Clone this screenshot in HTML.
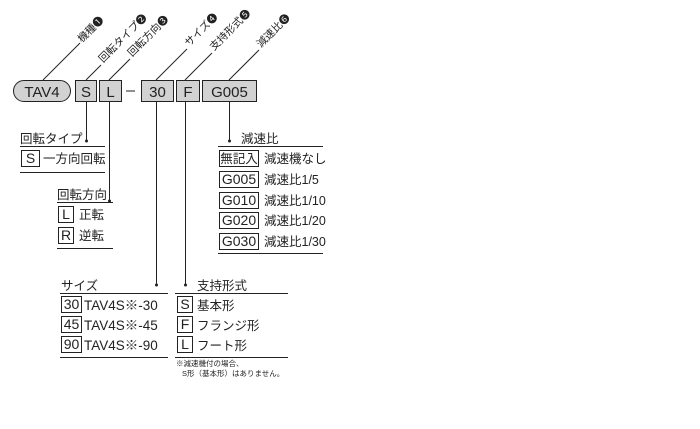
<!DOCTYPE html><html><head><meta charset="utf-8"><style>body{margin:0;background:#fff}svg{display:block}text{font-family:"Liberation Sans","Noto Sans CJK JP",sans-serif;fill:#222}</style></head><body>
<svg width="700" height="429" viewBox="0 0 700 429" xmlns="http://www.w3.org/2000/svg">
<g stroke="#222" stroke-width="1" fill="#d2d2d2">
<rect x="13.5" y="80.5" width="57" height="21" rx="10.5"/>
<rect x="75.5" y="80.5" width="21" height="21"/>
<rect x="99.5" y="80.5" width="22" height="21"/>
<rect x="141.5" y="80.5" width="32" height="21"/>
<rect x="176.5" y="80.5" width="23" height="21"/>
<rect x="202.5" y="80.5" width="54" height="21"/>
</g>
<g font-size="15" text-anchor="middle">
<text x="42" y="97">TAV4</text><text x="86" y="97">S</text><text x="110.5" y="97">L</text>
<text x="157.5" y="97">30</text><text x="188" y="97">F</text><text x="229.5" y="97">G005</text>
</g>
<line x1="126" y1="91" x2="135" y2="91" stroke="#222"/>
<g stroke="#222" stroke-width="1" fill="none">
<path d="M43 80 L80 43"/><path d="M86 80 L101 65"/><path d="M109 80 L130 59"/>
<path d="M156 80 L187 49"/><path d="M185 80 L212 53"/><path d="M229 80 L259 50"/>
<path d="M86.5 102 V140"/><path d="M109.5 102 V200"/><path d="M156.5 102 V284"/><path d="M185.5 102 V284"/><path d="M229.5 102 V140"/>
<path d="M20 146.5 H105"/><path d="M20 172.5 H105"/>
<path d="M57 202.5 H113"/><path d="M57 248.5 H113"/>
<path d="M218 146.5 H323"/><path d="M218 253.5 H323"/>
<path d="M60 293.5 H168"/><path d="M60 357.5 H168"/>
<path d="M175 293.5 H288"/><path d="M175 357.5 H288"/>
</g>
<g fill="#222"><circle cx="86.5" cy="141" r="1.5"/><circle cx="109.5" cy="201" r="1.5"/><circle cx="156.5" cy="285" r="1.5"/><circle cx="185.5" cy="285" r="1.5"/><circle cx="229.5" cy="141" r="1.5"/></g>
<g font-size="10.5">
<text transform="translate(82,43) rotate(-45)">機種❶</text>
<text transform="translate(103,63) rotate(-45)">回転タイプ❷</text>
<text transform="translate(132,57) rotate(-45)">回転方向❸</text>
<text transform="translate(189,47) rotate(-45)">サイズ❹</text>
<text transform="translate(214,51) rotate(-45)">支持形式❺</text>
<text transform="translate(261,48) rotate(-45)">減速比❻</text>
</g>
<g font-size="12.5">
<text x="20" y="143">回転タイプ</text>
<text x="57" y="199">回転方向</text>
<text x="241" y="143">減速比</text>
<text x="61" y="290">サイズ</text>
<text x="197" y="290">支持形式</text>
<text x="43" y="163">一方向回転</text>
<text x="79" y="219">正転</text><text x="79" y="240">逆転</text>
<text x="264" y="163">減速機なし</text>
<text x="264" y="184">減速比1/5</text><text x="264" y="205">減速比1/10</text>
<text x="264" y="225">減速比1/20</text><text x="264" y="246">減速比1/30</text>
<text x="197" y="310">基本形</text><text x="197" y="330">フランジ形</text><text x="197" y="350">フート形</text>
</g>
<g font-size="13.5">
<text x="84" y="310">TAV4S※-30</text><text x="84" y="330">TAV4S※-45</text><text x="84" y="350">TAV4S※-90</text>
</g>
<g stroke="#222" fill="none">
<rect x="21.5" y="150.5" width="18" height="16"/>
<rect x="58.5" y="206.5" width="15" height="16"/><rect x="58.5" y="227.5" width="15" height="16"/>
<rect x="219.5" y="150.5" width="39" height="16"/>
<rect x="219.5" y="171.5" width="39" height="16"/><rect x="219.5" y="192.5" width="39" height="16"/>
<rect x="219.5" y="212.5" width="39" height="16"/><rect x="219.5" y="233.5" width="39" height="16"/>
<rect x="61.5" y="296.5" width="20" height="16"/><rect x="61.5" y="316.5" width="20" height="16"/><rect x="61.5" y="336.5" width="20" height="16"/>
<rect x="177.5" y="296.5" width="15" height="16"/><rect x="177.5" y="316.5" width="15" height="16"/><rect x="177.5" y="336.5" width="15" height="16"/>
</g>
<g font-size="14" text-anchor="middle">
<text x="30.5" y="163">S</text><text x="66" y="219">L</text><text x="66" y="240">R</text>
<text x="71.5" y="309">30</text><text x="71.5" y="329">45</text><text x="71.5" y="349">90</text>
<text x="185" y="309">S</text><text x="185" y="329">F</text><text x="185" y="349">L</text>
<text x="239" y="184">G005</text><text x="239" y="205">G010</text><text x="239" y="225">G020</text><text x="239" y="246">G030</text>
</g>
<text x="239" y="163" font-size="12.5" text-anchor="middle">無記入</text>
<g font-size="7.5"><text x="176" y="366">※減速機付の場合、</text><text x="182" y="376">S形（基本形）はありません。</text></g>
</svg></body></html>
